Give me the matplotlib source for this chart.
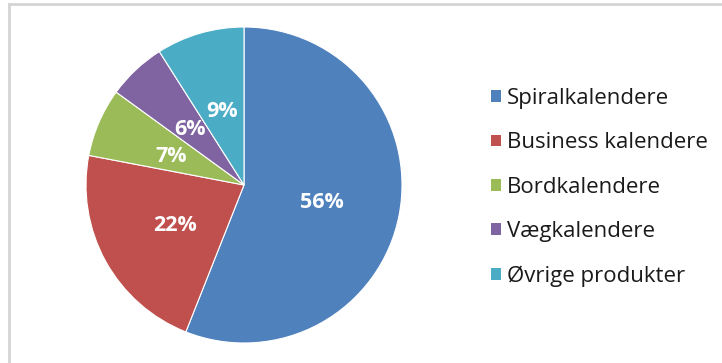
import matplotlib
matplotlib.use('Agg')
import matplotlib.pyplot as plt
from matplotlib.lines import Line2D
from matplotlib.patches import Patch

# -- Data ---------------------------------------------------------------------
labels = ['Spiralkalendere', 'Business kalendere', 'Bordkalendere',
          'Vægkalendere', 'Øvrige produkter']
shares = [56, 22, 7, 6, 9]
colors = ['#4F81BD', '#C0504D', '#9BBB59', '#8064A2', '#4BACC6']

FONT = ['Open Sans', 'DejaVu Sans']
plt.rcParams['font.family'] = FONT

W, H = 722, 363
fig = plt.figure(figsize=(W / 100, H / 100), dpi=100, facecolor='white')

# pie centre (244, 185) px, radius 158 px
cx, cy, r = 244, 185, 158
ax = fig.add_axes([(cx - r) / W, (H - cy - r) / H, 2 * r / W, 2 * r / H])
wedges, _, autotexts = ax.pie(
    shares, colors=colors, startangle=90, counterclock=False,
    autopct='%d%%', pctdistance=0.5,
    wedgeprops=dict(edgecolor='white', linewidth=0.8),
    textprops=dict(color='white', fontsize=15.5, fontweight='bold'))
for t in autotexts:
    t.set_va('center_baseline')
ax.set_xlim(-1, 1)
ax.set_ylim(-1, 1)
ax.set_aspect('equal')
ax.axis('off')

handles = [Patch(facecolor=c, edgecolor='none') for c in colors]
fig.legend(handles, labels, loc='center left',
           bbox_to_anchor=(491 / W, 1 - 187.5 / H), frameon=False,
           fontsize=16, handlelength=0.45, handleheight=0.45,
           handletextpad=0.25, labelspacing=1.05, borderpad=0,
           borderaxespad=0, labelcolor='#1a1a1a')

# chart frame (only top and left edges visible in the crop)
frame = dict(color='#D4D4D4', linewidth=2, transform=fig.transFigure)
fig.add_artist(Line2D([9 / W, 9 / W], [0, 1 - 4 / H], **frame))
fig.add_artist(Line2D([9 / W, 1], [1 - 4 / H, 1 - 4 / H], **frame))

fig.savefig('out.png', dpi=100, facecolor='white')
